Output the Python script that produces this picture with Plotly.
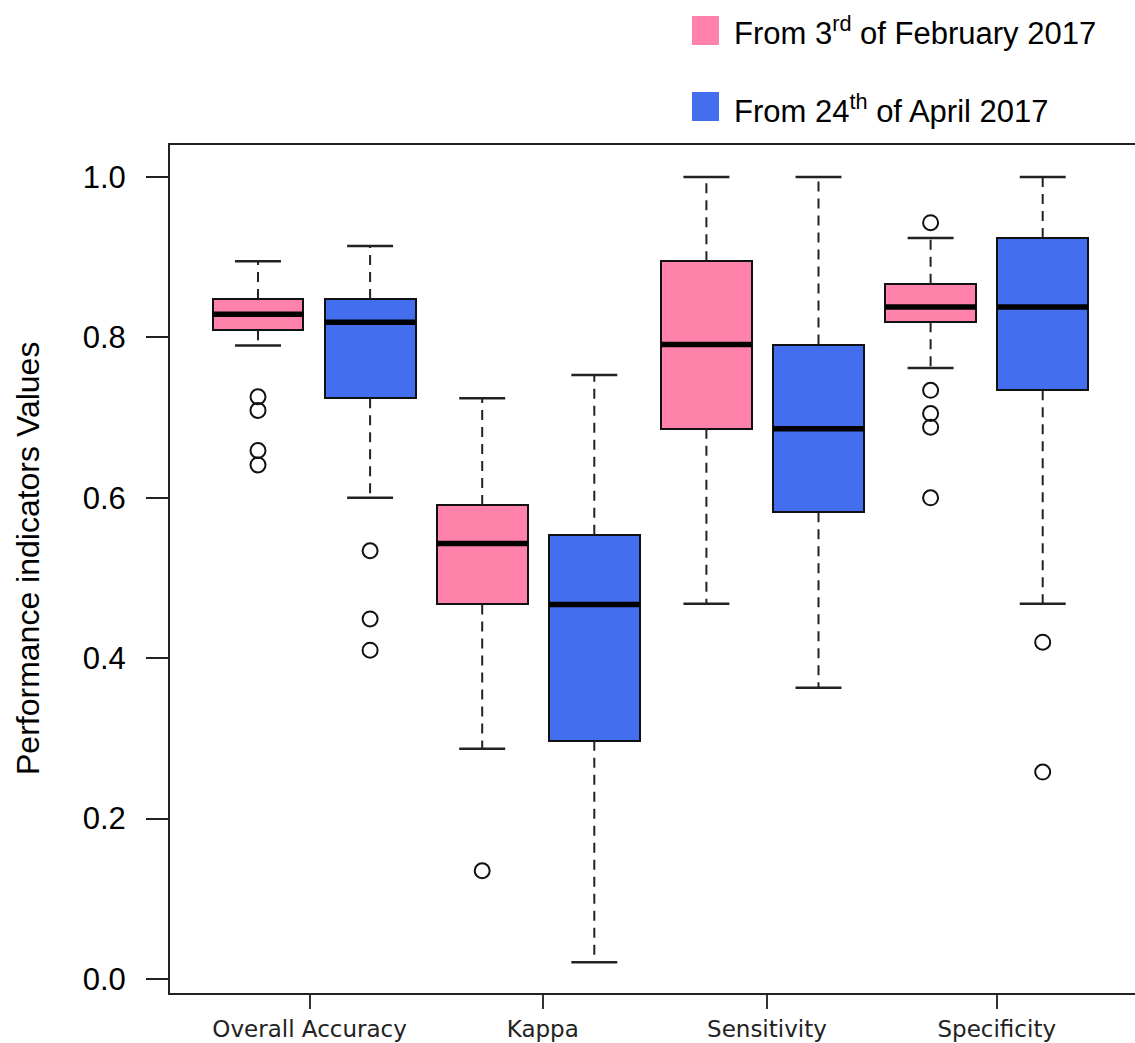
import plotly.graph_objects as go

# ---------------- data ----------------
categories = ["Overall Accuracy", "Kappa", "Sensitivity", "Specificity"]
series_names = ["From 3<sup>rd</sup> of February 2017", "From 24<sup>th</sup> of April 2017"]
series_colors = ["#FF82AB", "#436EEE"]

# From 3rd of February 2017
feb_low = [0.790, 0.287, 0.468, 0.762]
feb_q1 = [0.809, 0.467, 0.686, 0.819]
feb_med = [0.829, 0.543, 0.791, 0.838]
feb_q3 = [0.848, 0.591, 0.895, 0.867]
feb_high = [0.895, 0.724, 1.000, 0.924]
feb_out = [[0.726, 0.709, 0.659, 0.641], [0.135], [], [0.943, 0.734, 0.705, 0.688, 0.600]]

# From 24th of April 2017
apr_low = [0.600, 0.021, 0.363, 0.468]
apr_q1 = [0.724, 0.297, 0.582, 0.734]
apr_med = [0.819, 0.467, 0.686, 0.838]
apr_q3 = [0.848, 0.554, 0.791, 0.924]
apr_high = [0.914, 0.753, 1.000, 1.000]
apr_out = [[0.534, 0.449, 0.410], [], [], [0.420, 0.258]]

y_ticks = [0.0, 0.2, 0.4, 0.6, 0.8, 1.0]
y_tick_labels = ["0.0", "0.2", "0.4", "0.6", "0.8", "1.0"]
x_tick_pos = [1.46, 3.54, 5.54, 7.59]

series = [
    (feb_low, feb_q1, feb_med, feb_q3, feb_high, feb_out),
    (apr_low, apr_q1, apr_med, apr_q3, apr_high, apr_out),
]

BOX_HALF = 0.405
CAP_HALF = 0.205

fig = go.Figure()

for s, (low, q1, med, q3, high, outs) in enumerate(series):
    pos = [2 * i + 1 + s for i in range(len(categories))]
    color = series_colors[s]
    # boxes
    fig.add_trace(go.Bar(
        x=pos, y=[b - a for a, b in zip(q1, q3)], base=q1,
        width=2 * BOX_HALF, marker=dict(color=color, line=dict(color="#111111", width=2)),
        showlegend=False, hoverinfo="skip"))
    # whiskers (dashed)
    wx, wy = [], []
    for p, lo, a, b, hi in zip(pos, low, q1, q3, high):
        wx += [p, p, None, p, p, None]
        wy += [b, hi, None, a, lo, None]
    fig.add_trace(go.Scatter(x=wx, y=wy, mode="lines",
                             line=dict(color="#222222", width=2, dash="10px,7px"),
                             showlegend=False, hoverinfo="skip"))
    # staples
    cx, cy = [], []
    for p, lo, hi in zip(pos, low, high):
        cx += [p - CAP_HALF, p + CAP_HALF, None, p - CAP_HALF, p + CAP_HALF, None]
        cy += [hi, hi, None, lo, lo, None]
    fig.add_trace(go.Scatter(x=cx, y=cy, mode="lines",
                             line=dict(color="#222222", width=2.5),
                             showlegend=False, hoverinfo="skip"))
    # medians
    mx, my = [], []
    for p, m in zip(pos, med):
        mx += [p - BOX_HALF, p + BOX_HALF, None]
        my += [m, m, None]
    fig.add_trace(go.Scatter(x=mx, y=my, mode="lines",
                             line=dict(color="black", width=5.5),
                             showlegend=False, hoverinfo="skip"))
    # outliers
    ox, oy = [], []
    for p, o in zip(pos, outs):
        ox += [p] * len(o)
        oy += o
    fig.add_trace(go.Scatter(x=ox, y=oy, mode="markers",
                             marker=dict(symbol="circle-open", size=15,
                                         color="#111111", line=dict(width=2)),
                             showlegend=False, hoverinfo="skip"))

# body margin is removed by post_script below, so figure px == screen px
W, H = 1135, 1043
PLOT_L, PLOT_T, PLOT_B = 170, 145, 993
L, T = PLOT_L, PLOT_T
B = H - PLOT_B
R = 0
pw, ph = W - L - R, H - T - B

# x range: box centres at 258 + (c-1)*112.1 px
UNIT = 112.1
C1 = 258
x_lo = 1 + (PLOT_L - C1) / UNIT
x_hi = 1 + (PLOT_L + pw - C1) / UNIT


def px_x(x):
    return (x - L) / pw


def px_y(y):
    return (H - B - y) / ph


shapes = []
annotations = []
legend_rows = [(16, 45, 31), (92, 121, 109)]
for (top, bot, mid), name, color in zip(legend_rows, series_names, series_colors):
    shapes.append(dict(type="rect", xref="paper", yref="paper",
                       x0=px_x(692), x1=px_x(719), y0=px_y(bot), y1=px_y(top),
                       fillcolor=color, line=dict(width=0)))
    annotations.append(dict(text=name, xref="paper", yref="paper",
                            x=px_x(732), y=px_y(mid), xanchor="left", yanchor="middle",
                            showarrow=False,
                            font=dict(family="Liberation Sans", size=31, color="black")))

annotations.append(dict(text="Performance indicators Values", xref="paper", yref="paper",
                        x=px_x(28), y=px_y(559), xanchor="center", yanchor="middle",
                        textangle=-90, showarrow=False,
                        font=dict(family="Liberation Sans", size=32, color="black")))

fig.update_layout(
    width=W, height=H,
    margin=dict(l=L, r=R, t=T, b=B, pad=0, autoexpand=False),
    paper_bgcolor="white", plot_bgcolor="white",
    barmode="overlay", bargap=0,
    shapes=shapes, annotations=annotations,
    showlegend=False,
)
fig.update_xaxes(
    range=[x_lo, x_hi], tickvals=x_tick_pos, ticktext=categories,
    showgrid=False, zeroline=False, automargin=False,
    showline=True, linecolor="#222222", linewidth=2, mirror=True,
    ticks="outside", ticklen=14, tickwidth=2, tickcolor="#333333",
    tickfont=dict(family="DejaVu Sans", size=23, color="#222222"),
)
fig.update_yaxes(
    range=[-0.01746, 1.0399], tickvals=y_ticks, ticktext=y_tick_labels,
    showgrid=False, zeroline=False, automargin=False,
    showline=True, linecolor="#222222", linewidth=2, mirror=False,
    ticks="outside", ticklen=22, tickwidth=2, tickcolor="#222222",
    ticklabelstandoff=14,
    tickfont=dict(family="Liberation Sans", size=31, color="black"),
)

fig.write_html(
    "out.html",
    config={"displayModeBar": False},
    post_script="document.body.style.margin='0';document.body.style.overflow='hidden';",
)
